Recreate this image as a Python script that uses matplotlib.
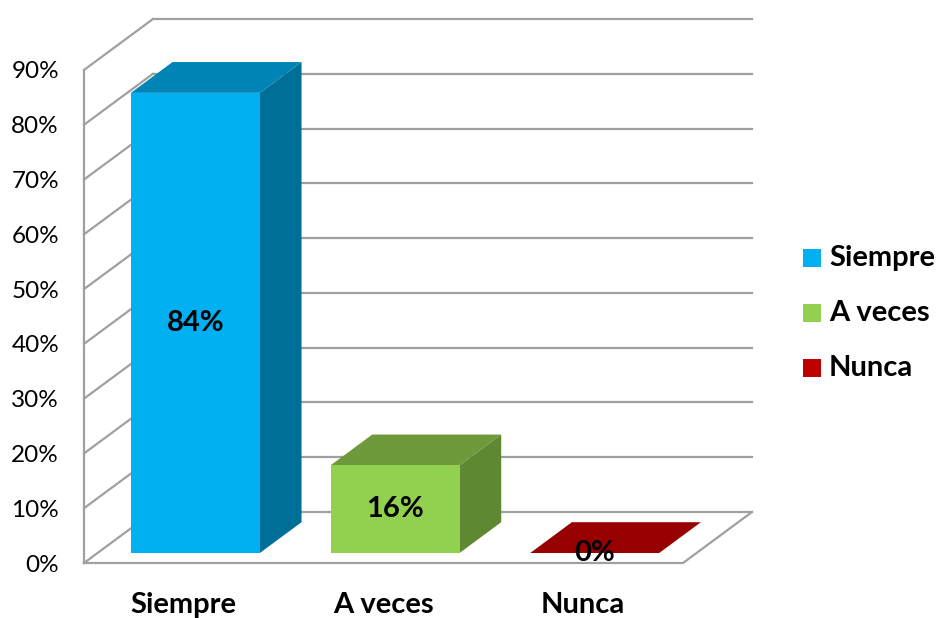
import matplotlib
matplotlib.use("Agg")
import matplotlib.pyplot as plt
from matplotlib.patches import Polygon, Rectangle

# ---- data ----
categories = ["Siempre", "A veces", "Nunca"]
values = [84, 16, 0]
value_labels = ["84%", "16%", "0%"]
yticks = [0, 10, 20, 30, 40, 50, 60, 70, 80, 90]
ytick_labels = ["0%", "10%", "20%", "30%", "40%", "50%", "60%", "70%", "80%", "90%"]

front_colors = ["#00B0F0", "#92D050", "#C00000"]
top_colors = ["#0084B6", "#6F9A3C", "#960000"]
side_colors = ["#006F98", "#5E8832", "#800000"]

W, H, DPI = 940, 618, 100
fig = plt.figure(figsize=(W / DPI, H / DPI), dpi=DPI)

# pixel geometry of the pseudo-3D frame
X0_PX = 84.0          # front-left of plot
CAT_PX = 199.67       # width of one category on front plane
Y0_PX = 563.0         # 0% on front plane
PCT_PX = 5.478        # px per percent
DEPTH_DX = 69.0       # px shift for full depth
DEPTH_DY = 51.0

ax = fig.add_axes([X0_PX / W, 0, 1 - X0_PX / W, 1])
ax.set_xlim(-0.5, -0.5 + (W - X0_PX) / CAT_PX)
ax.set_ylim(-(H - Y0_PX) / PCT_PX, Y0_PX / PCT_PX)
for s in ax.spines.values():
    s.set_visible(False)
ax.set_xticks([])
ax.set_yticks(yticks)
ax.set_yticklabels(ytick_labels, fontsize=17.5, family="Lato", color="#000000")
ax.tick_params(axis="y", length=0, pad=18)
ax.set_facecolor("white")

DX = DEPTH_DX / CAT_PX     # depth shift in data units
DY = DEPTH_DY / PCT_PX


def P(x, y, d):
    return (x + DX * d, y + DY * d)


grid_c = "#A0A0A0"
glw = 1.6
xmin, xmax = -0.5, len(categories) - 0.5
ymax = 90

# back wall gridlines
for t in yticks:
    a, b = P(xmin, t, 1), P(xmax, t, 1)
    ax.plot([a[0], b[0]], [a[1], b[1]], color=grid_c, lw=glw, zorder=1, clip_on=False)
# left wall diagonals
for t in yticks:
    a, b = P(xmin, t, 0), P(xmin, t, 1)
    ax.plot([a[0], b[0]], [a[1], b[1]], color=grid_c, lw=glw, zorder=1, clip_on=False)
# left wall front vertical
a, b = P(xmin, 0, 0), P(xmin, ymax, 0)
ax.plot([a[0], b[0]], [a[1], b[1]], color=grid_c, lw=glw, zorder=1, clip_on=False)
# floor front edge and right edge
a, b, c = P(xmin, 0, 0), P(xmax, 0, 0), P(xmax, 0, 1)
ax.plot([a[0], b[0], c[0]], [a[1], b[1], c[1]], color=grid_c, lw=glw, zorder=1, clip_on=False)

# bars
bw = 0.646
d0, d1 = 0.196, 0.80
for i, (v, fc, tc, sc) in enumerate(zip(values, front_colors, top_colors, side_colors)):
    xl, xr = i - bw / 2 - 0.01, i + bw / 2 - 0.01
    if v > 0:
        side = [P(xr, 0, d0), P(xr, 0, d1), P(xr, v, d1), P(xr, v, d0)]
        ax.add_patch(Polygon(side, closed=True, fc=sc, ec="none", zorder=3))
        front = [P(xl, 0, d0), P(xr, 0, d0), P(xr, v, d0), P(xl, v, d0)]
        ax.add_patch(Polygon(front, closed=True, fc=fc, ec="none", zorder=4))
    top = [P(xl, v, d0), P(xr, v, d0), P(xr, v, d1), P(xl, v, d1)]
    ax.add_patch(Polygon(top, closed=True, fc=tc, ec="none", zorder=3))
    cx, cy = P(i - 0.01, v / 2, d0)
    ax.text(cx, cy, value_labels[i], ha="center", va="center", fontsize=21,
            fontweight="bold", family="Lato", color="#000000", zorder=6)

# category labels
for i, c in enumerate(categories):
    ax.text(i, -7.6, c, ha="center", va="center", fontsize=21, fontweight="bold",
            family="Lato", color="#000000", clip_on=False)

# legend
leg_y = [258, 313, 368]
for c, col, yp in zip(categories, front_colors, leg_y):
    fig.patches.append(Rectangle((803 / W, 1 - (yp + 9) / H), 18 / W, 18 / H,
                                 transform=fig.transFigure, fc=col, ec="none"))
    fig.text(829 / W, 1 - yp / H, c, ha="left", va="center", fontsize=21,
             fontweight="bold", family="Lato", color="#000000")

fig.savefig("out.png", dpi=DPI, facecolor="white")
